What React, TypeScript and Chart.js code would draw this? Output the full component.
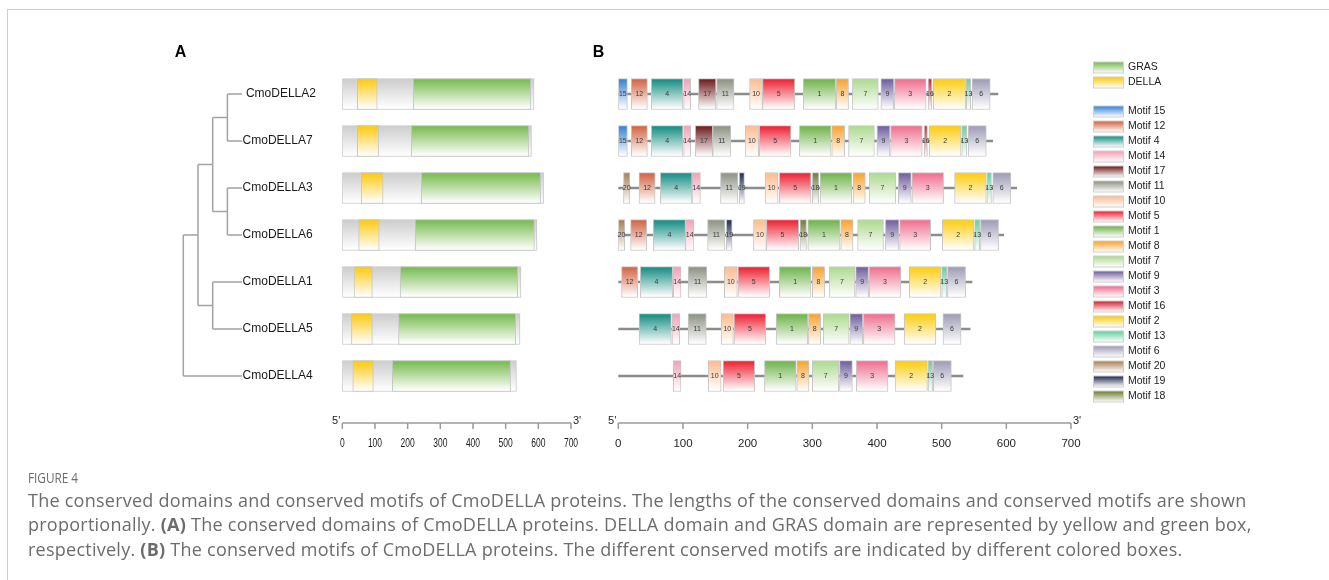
import React, { useEffect, useRef } from "react";
import { Chart, registerables } from "chart.js";

Chart.register(...registerables);

// ---------------- data ----------------
const genes = [" CmoDELLA2", "CmoDELLA7", "CmoDELLA3", "CmoDELLA6", "CmoDELLA1", "CmoDELLA5", "CmoDELLA4"];
const proteinLength = [587, 579, 616, 596, 547, 544, 533];
const dellaDomain = [[46, 107], [46, 111], [58, 125], [50, 113], [36, 92], [28, 92], [32, 95]];
const grasDomain = [[217, 577], [211, 571], [242, 607], [223, 588], [177, 537], [172, 531], [153, 515]];
const axisTicks = [0, 100, 200, 300, 400, 500, 600, 700];

// phylogeny: nested pairs of gene indices
const treeTopology: any = [[[[0, 1], [2, 3]], [4, 5]], 6];

const domainNames = ["GRAS", "DELLA"];
const domainColors = ["#74b94b", "#fdc80c"];
const proteinColor = "#cccccc";

const motifOrder = [15, 12, 4, 14, 17, 11, 10, 5, 1, 8, 7, 9, 3, 16, 2, 13, 6, 20, 19, 18];
const motifColors = [
  "#2f7fd6", "#d0603e", "#0f8a80", "#f39db4", "#6a1616", "#8a9080", "#fdba8c", "#ed1c2e",
  "#6cb246", "#f9a02a", "#abd98c", "#6c5a9a", "#ef6b8b", "#cf1f2d", "#fdcb0a", "#60cf9b",
  "#9c9ab4", "#a67c52", "#1c2650", "#6b7a2e",
];

// [motif, start, end] per gene
const motifsDELLA2 = [[15, 0, 14], [12, 20, 45], [4, 51, 100], [14, 101, 112], [17, 124, 151], [11, 152, 179], [10, 203, 223], [5, 223, 273], [1, 286, 336], [8, 337, 356], [7, 362, 402], [9, 406, 426], [3, 427, 476], [16, 479, 485], [2, 487, 537], [13, 538, 545], [6, 547, 575]];
const motifsDELLA7 = [[15, 0, 14], [12, 20, 45], [4, 51, 100], [14, 101, 112], [17, 119, 146], [11, 146, 174], [10, 196, 217], [5, 218, 267], [1, 280, 329], [8, 330, 350], [7, 356, 396], [9, 400, 420], [3, 421, 470], [16, 473, 478], [2, 481, 530], [13, 531, 539], [6, 541, 569]];
const motifsDELLA3 = [[20, 8, 18], [12, 32, 57], [4, 65, 114], [14, 114, 127], [11, 158, 185], [19, 187, 195], [10, 227, 247], [5, 249, 298], [18, 300, 310], [1, 312, 361], [8, 363, 382], [7, 388, 429], [9, 433, 453], [3, 454, 503], [2, 520, 569], [13, 570, 577], [6, 579, 607]];
const motifsDELLA6 = [[20, 0, 10], [12, 19, 44], [4, 54, 104], [14, 104, 117], [11, 138, 165], [19, 167, 176], [10, 209, 229], [5, 229, 279], [18, 281, 291], [1, 293, 343], [8, 344, 363], [7, 370, 410], [9, 413, 434], [3, 435, 483], [2, 501, 550], [13, 551, 559], [6, 560, 588]];
const motifsDELLA1 = [[12, 5, 30], [4, 34, 84], [14, 85, 97], [11, 108, 137], [10, 164, 184], [5, 185, 234], [1, 249, 298], [8, 300, 319], [7, 326, 366], [9, 367, 387], [3, 388, 437], [2, 450, 499], [13, 500, 508], [6, 509, 537]];
const motifsDELLA5 = [[4, 32, 82], [14, 83, 95], [11, 108, 136], [10, 159, 178], [5, 179, 228], [1, 244, 293], [8, 294, 313], [7, 317, 357], [9, 358, 378], [3, 379, 428], [2, 442, 491], [6, 502, 530]];
const motifsDELLA4 = [[14, 85, 97], [10, 139, 159], [5, 162, 211], [1, 226, 275], [8, 276, 295], [7, 300, 341], [9, 342, 362], [3, 368, 417], [2, 428, 478], [13, 479, 486], [6, 487, 515]];
const motifsByGene = [motifsDELLA2, motifsDELLA7, motifsDELLA3, motifsDELLA6, motifsDELLA1, motifsDELLA5, motifsDELLA4];

const captionTitle = "FIGURE 4";

// ---------------- layout / style ----------------
const W = 1329;
const H = 580;
const ROW_TOP = 70.5;
const ROW_BOTTOM = 399.5;
const BOX_H = 31;
const AXIS_Y = 423;
const FONT = '"Liberation Sans", Arial, Helvetica, sans-serif';
const TREE_X0 = 183.3;
const TREE_STEP = 14.7;
const TREE_LEAF_DEPTH = 4;

function verticalGradient(color: string) {
  return (ctx: any) => {
    const chart = ctx.chart;
    const y = chart.scales && chart.scales.y;
    if (!y || typeof ctx.dataIndex !== "number") return color;
    const c = y.getPixelForValue(ctx.dataIndex);
    if (!Number.isFinite(c)) return color;
    const g = chart.ctx.createLinearGradient(0, c - BOX_H / 2, 0, c + BOX_H / 2);
    g.addColorStop(0, color);
    g.addColorStop(0.97, "#ffffff");
    return g;
  };
}

function axisPlugin(id: string, labelScaleX: number, labelSize: number) {
  return {
    id,
    afterDraw(chart: any) {
      const ctx = chart.ctx;
      const xs = chart.scales.x;
      const x0 = xs.getPixelForValue(axisTicks[0]);
      const x1 = xs.getPixelForValue(axisTicks[axisTicks.length - 1]);
      ctx.save();
      ctx.strokeStyle = "#9a9a9a";
      ctx.lineWidth = 1.5;
      ctx.beginPath();
      ctx.moveTo(x0, AXIS_Y);
      ctx.lineTo(x1, AXIS_Y);
      for (const t of axisTicks) {
        const px = xs.getPixelForValue(t);
        ctx.moveTo(px, AXIS_Y);
        ctx.lineTo(px, AXIS_Y + 6);
      }
      ctx.stroke();
      ctx.fillStyle = "#1e1e1e";
      ctx.font = `${labelSize}px ${FONT}`;
      ctx.textBaseline = "middle";
      ctx.textAlign = "center";
      for (const t of axisTicks) {
        const px = xs.getPixelForValue(t);
        ctx.save();
        ctx.translate(px, AXIS_Y + 21);
        ctx.scale(labelScaleX, 1);
        ctx.fillText(String(t), 0, 0);
        ctx.restore();
      }
      ctx.font = `11px ${FONT}`;
      ctx.textAlign = "right";
      ctx.fillText("5'", x0 - 2, AXIS_Y - 2);
      ctx.textAlign = "left";
      ctx.fillText("3'", x1 + 2, AXIS_Y - 2);
      ctx.restore();
    },
  };
}

function panelLetter(id: string, letter: string, x: number) {
  return {
    id,
    afterDraw(chart: any) {
      const ctx = chart.ctx;
      ctx.save();
      ctx.fillStyle = "#000";
      ctx.font = `bold 16px ${FONT}`;
      ctx.textAlign = "center";
      ctx.textBaseline = "middle";
      ctx.fillText(letter, x, 52.5);
      ctx.restore();
    },
  };
}

const treePlugin = {
  id: "tree",
  afterDraw(chart: any) {
    const ctx = chart.ctx;
    const ys = chart.scales.y;
    const segs: number[][] = [];
    const leaves: { i: number; x: number; y: number }[] = [];
    const walk = (node: any, depth: number): { x: number; y: number } => {
      if (typeof node === "number") {
        const p = { x: TREE_X0 + TREE_LEAF_DEPTH * TREE_STEP, y: ys.getPixelForValue(node) };
        leaves.push({ i: node, ...p });
        return p;
      }
      const x = TREE_X0 + depth * TREE_STEP;
      const kids = node.map((c: any) => walk(c, depth + 1));
      const ky = kids.map((k: any) => k.y);
      const lo = Math.min(...ky);
      const hi = Math.max(...ky);
      segs.push([x, lo, x, hi]);
      kids.forEach((k: any) => segs.push([x, k.y, k.x, k.y]));
      return { x, y: (lo + hi) / 2 };
    };
    walk(treeTopology, 0);
    ctx.save();
    ctx.strokeStyle = "#a3a3a3";
    ctx.lineWidth = 1.5;
    ctx.beginPath();
    for (const s of segs) {
      ctx.moveTo(s[0], s[1]);
      ctx.lineTo(s[2], s[3]);
    }
    ctx.stroke();
    ctx.fillStyle = "#1a1a1a";
    ctx.font = `12px ${FONT}`;
    ctx.textAlign = "left";
    ctx.textBaseline = "middle";
    for (const l of leaves) ctx.fillText(chart.data.labels[l.i], l.x + 0.5, l.y);
    ctx.restore();
  },
};

const motifLabelPlugin = {
  id: "motifLabels",
  afterDatasetsDraw(chart: any) {
    const ctx = chart.ctx;
    ctx.save();
    ctx.fillStyle = "#3a3a3a";
    ctx.font = `7px ${FONT}`;
    ctx.textAlign = "center";
    ctx.textBaseline = "middle";
    chart.data.datasets.forEach((ds: any, di: number) => {
      if (ds.motifId == null) return;
      const meta = chart.getDatasetMeta(di);
      meta.data.forEach((el: any, j: number) => {
        if (ds.data[j] == null) return;
        const p = el.getProps(["x", "base", "y"], true);
        ctx.fillText(String(ds.motifId), (p.x + p.base) / 2, p.y + 0.5);
      });
    });
    ctx.restore();
  },
};

const legendPlugin = {
  id: "motifLegend",
  afterDraw(chart: any) {
    const ctx = chart.ctx;
    const items: { label: string; color: string; y: number }[] = [];
    domainNames.forEach((n, i) => items.push({ label: n, color: domainColors[i], y: 67.5 + i * 15 }));
    motifOrder.forEach((m, i) => items.push({ label: `Motif ${m}`, color: motifColors[i], y: 111.5 + i * 15 }));
    ctx.save();
    ctx.font = `10.5px ${FONT}`;
    ctx.textBaseline = "middle";
    ctx.textAlign = "left";
    for (const it of items) {
      const top = it.y - 5.5;
      const g = ctx.createLinearGradient(0, top, 0, top + 11);
      g.addColorStop(0, it.color);
      g.addColorStop(1, "#ffffff");
      ctx.fillStyle = g;
      ctx.fillRect(1093.5, top, 30, 11);
      ctx.strokeStyle = "#d0d0d0";
      ctx.lineWidth = 1;
      ctx.strokeRect(1093.5, top, 30, 11);
      ctx.fillStyle = "#222";
      ctx.fillText(it.label, 1128, it.y);
    }
    ctx.restore();
  },
};

function baseOptions(left: number, right: number) {
  return {
    responsive: false,
    animation: false as const,
    indexAxis: "y" as const,
    events: [] as any[],
    layout: { padding: { left, right: W - right, top: ROW_TOP, bottom: H - ROW_BOTTOM } },
    scales: {
      x: { type: "linear" as const, min: 0, max: 700, display: false },
      y: { type: "category" as const, display: false, offset: true },
    },
    plugins: { legend: { display: false }, tooltip: { enabled: false } },
  };
}

export default function App() {
  const refA = useRef<HTMLCanvasElement>(null);
  const refB = useRef<HTMLCanvasElement>(null);

  useEffect(() => {
    const boxCommon = { grouped: false, barThickness: BOX_H, borderWidth: 1, borderSkipped: false as const, borderColor: "#c6c6c6" };
    const chartA = new Chart(refA.current as HTMLCanvasElement, {
      type: "bar",
      data: {
        labels: genes,
        datasets: [
          { label: "GRAS", data: grasDomain as any, backgroundColor: verticalGradient(domainColors[0]) as any, order: 1, ...boxCommon },
          { label: "DELLA", data: dellaDomain as any, backgroundColor: verticalGradient(domainColors[1]) as any, order: 1, ...boxCommon },
          { label: "protein", data: proteinLength.map((l) => [0, l]) as any, backgroundColor: verticalGradient(proteinColor) as any, order: 5, ...boxCommon },
        ],
      },
      options: baseOptions(342.3, 571) as any,
      plugins: [treePlugin, axisPlugin("axisA", 0.68, 12.5), panelLetter("letterA", "A", 180.5)],
    });

    const motifDatasets = motifOrder.map((m, k) => ({
      label: `Motif ${m}`,
      motifId: m,
      data: motifsByGene.map((list) => {
        const f = list.find((r) => r[0] === m);
        return f ? [f[1], f[2]] : null;
      }) as any,
      backgroundColor: verticalGradient(motifColors[k]) as any,
      order: 1,
      ...boxCommon,
    }));
    const chartB = new Chart(refB.current as HTMLCanvasElement, {
      type: "bar",
      data: {
        labels: genes,
        datasets: [
          ...motifDatasets,
          { label: "backbone", data: proteinLength.map((l) => [0, l]) as any, backgroundColor: "#8c8c8c", borderWidth: 0, grouped: false, barThickness: 2, order: 10 } as any,
        ],
      },
      options: baseOptions(618.3, 1071) as any,
      plugins: [motifLabelPlugin, legendPlugin, axisPlugin("axisB", 1, 11.5), panelLetter("letterB", "B", 598.5)],
    });
    return () => {
      chartA.destroy();
      chartB.destroy();
    };
  }, []);

  const capFont = '"Open Sans", "Noto Sans", sans-serif';
  return (
    <div style={{ position: "absolute", left: 0, top: 0, width: W, height: H, background: "#fff", overflow: "hidden" }}>
      <div style={{ position: "absolute", left: 7, top: 9, width: W - 7, height: H - 9, borderTop: "1px solid #cdcdcd", borderLeft: "1px solid #cdcdcd", boxSizing: "border-box" }} />
      <canvas ref={refA} width={W} height={H} style={{ position: "absolute", left: 0, top: 0 }} />
      <canvas ref={refB} width={W} height={H} style={{ position: "absolute", left: 0, top: 0 }} />
      <div style={{ position: "absolute", left: 28, top: 467, fontFamily: capFont, color: "#6c6c6c", whiteSpace: "nowrap" }}>
        <div style={{ fontSize: 14, fontWeight: 500, lineHeight: "21px", transform: "scaleX(0.84)", transformOrigin: "left center" }}>{captionTitle}</div>
        <div style={{ fontSize: 18, lineHeight: "24.3px", letterSpacing: "0.25px" }}>
          <div>The conserved domains and conserved motifs of CmoDELLA proteins. The lengths of the conserved domains and conserved motifs are shown</div>
          <div>proportionally. <b>(A)</b> The conserved domains of CmoDELLA proteins. DELLA domain and GRAS domain are represented by yellow and green box,</div>
          <div>respectively. <b>(B)</b> The conserved motifs of CmoDELLA proteins. The different conserved motifs are indicated by different colored boxes.</div>
        </div>
      </div>
    </div>
  );
}
